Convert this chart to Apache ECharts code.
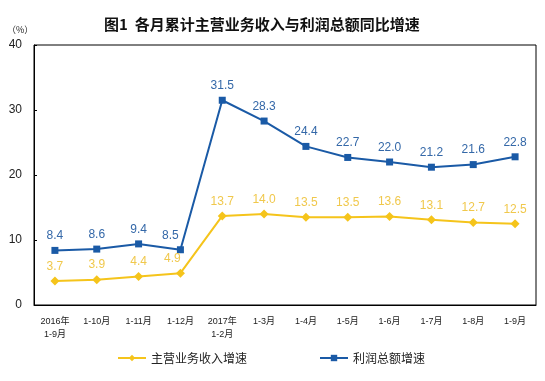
<!DOCTYPE html>
<html>
<head>
<meta charset="utf-8">
<script src="https://cdn.jsdelivr.net/npm/echarts@6/dist/echarts.min.js"></script>
<style>html,body{margin:0;padding:0;background:#fff;}#c{width:545px;height:381px;}</style>
</head>
<body>
<div id="c"></div>
<script>
var categories = ['2016年\n1-9月','1-10月','1-11月','1-12月','2017年\n1-2月','1-3月','1-4月','1-5月','1-6月','1-7月','1-8月','1-9月'];
var revenueGrowth = [3.7, 3.9, 4.4, 4.9, 13.7, 14.0, 13.5, 13.5, 13.6, 13.1, 12.7, 12.5];
var profitGrowth = [8.4, 8.6, 9.4, 8.5, 31.5, 28.3, 24.4, 22.7, 22.0, 21.2, 21.6, 22.8];
var yTicks = [0, 10, 20, 30, 40];
var seriesNames = ['主营业务收入增速', '利润总额增速'];
var titleText = '图1  各月累计主营业务收入与利润总额同比增速';

var font = '"Liberation Sans", Arial, "Noto Sans CJK SC", sans-serif';
var cjk = '"Noto Sans CJK SC", sans-serif';
var chart = echarts.init(document.getElementById('c'), null, {renderer: 'canvas'});
function fmt(p){ return p.value.toFixed(1); }
// shift the crowded 1-12月 labels left, as in the reference
function shiftLayout(idx, dx) {
  return function(params) {
    return params.dataIndex === idx ? {dx: dx, hideOverlap: false} : {hideOverlap: false};
  };
}
chart.setOption({
  animation: false,
  backgroundColor: '#fff',
  title: {
    text: titleText, left: 99, top: 12,
    textStyle: {fontFamily: cjk, fontSize: 15, fontWeight: 'bold', color: '#111'}
  },
  graphic: [{
    type: 'text', left: 7, top: 25,
    style: {text: '（%）', fontFamily: cjk, fontSize: 9, fill: '#222'}
  }],
  grid: {left: 34, right: 9, top: 45, bottom: 76, show: true, borderColor: '#000', borderWidth: 1, backgroundColor: 'transparent'},
  legend: {
    bottom: 12, left: 112, itemGap: 72, itemWidth: 28, itemHeight: 8,
    textStyle: {fontFamily: cjk, fontSize: 12, color: '#222'},
    data: seriesNames
  },
  xAxis: {
    type: 'category', data: categories, boundaryGap: true,
    axisLine: {lineStyle: {color: '#000', width: 1}},
    axisTick: {inside: true, length: 4, lineStyle: {color: '#000'}},
    axisLabel: {fontFamily: font, fontSize: 9, color: '#222', interval: 0, margin: 10, lineHeight: 13}
  },
  yAxis: {
    type: 'value', min: yTicks[0], max: yTicks[yTicks.length - 1], interval: 10,
    axisLine: {show: true, lineStyle: {color: '#000', width: 1}},
    axisTick: {show: true, inside: true, length: 3, lineStyle: {color: '#000'}},
    splitLine: {show: false},
    axisLabel: {fontFamily: font, fontSize: 12, color: '#222', margin: 12}
  },
  series: [{
    name: seriesNames[0], type: 'line', data: revenueGrowth,
    symbol: 'diamond', symbolSize: 9,
    lineStyle: {color: '#f5c41b', width: 2},
    itemStyle: {color: '#f5c41b'},
    labelLayout: shiftLayout(3, -8),
    label: {show: true, position: 'top', distance: 4, formatter: fmt, fontFamily: font, fontSize: 12, color: '#f0c84c'}
  }, {
    name: seriesNames[1], type: 'line', data: profitGrowth,
    symbol: 'rect', symbolSize: 7,
    lineStyle: {color: '#1a5aa6', width: 2},
    itemStyle: {color: '#1a5aa6'},
    labelLayout: shiftLayout(3, -10),
    label: {show: true, position: 'top', distance: 5, formatter: fmt, fontFamily: font, fontSize: 12, color: '#3468a8'}
  }]
});
</script>
</body>
</html>
